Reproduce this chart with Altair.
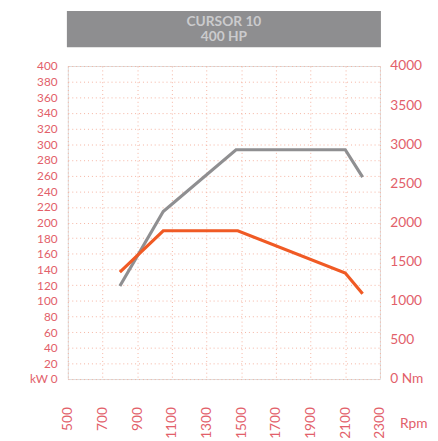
import altair as alt
import pandas as pd

# ---- data ----
rpm_power = [800, 1050, 1470, 2100, 2200]
power_kw = [119, 214, 293, 293, 258]
rpm_torque = [800, 1050, 1480, 2100, 2200]
torque_nm = [1365, 1895, 1895, 1355, 1090]
x_ticks = [500, 700, 900, 1100, 1300, 1500, 1700, 1900, 2100, 2300]
kw_ticks = list(range(0, 401, 20))
nm_ticks = list(range(0, 4001, 500))
title_lines = ["CURSOR 10", "400 HP"]

FONT = "Lato"
LABEL = "#e2606a"
GRID = "#f5b3a0"
BORDER = "#f8c6b6"

power_df = pd.DataFrame({"rpm": rpm_power, "kw": power_kw})
torque_df = pd.DataFrame({"rpm": rpm_torque, "nm": torque_nm})

x_scale = alt.Scale(domain=[500, 2300], nice=False, zero=False)
x_axis = alt.Axis(
    values=x_ticks, labelAngle=-90, labelPadding=28, ticks=False, domain=False,
    labelFontSize=14, labelColor=LABEL, labelFont=FONT, format="d",
    grid=True, gridColor=GRID, gridDash=[1, 3], gridWidth=1,
    title="Rpm", titleAngle=0, titleX=338, titleY=45, titleAlign="left",
    titleBaseline="middle", titleFontWeight="normal", titleFontSize=14,
    titleColor=LABEL, titleFont=FONT, labelOverlap=False, labelBound=False,
)

power = alt.Chart(power_df).mark_line(color="#8f8f91", strokeWidth=3.2).encode(
    x=alt.X("rpm:Q", scale=x_scale, axis=x_axis),
    y=alt.Y(
        "kw:Q",
        scale=alt.Scale(domain=[0, 400], nice=False),
        axis=alt.Axis(
            orient="left", values=kw_ticks, ticks=False, domain=False,
            labelExpr="datum.value == 0 ? 'kW 0' : datum.label",
            labelFontSize=12, labelPadding=11, labelColor=LABEL, labelFont=FONT,
            grid=True, gridColor=GRID, gridDash=[1, 3], gridWidth=1,
            title=None, labelOverlap=False, format="d",
        ),
    ),
)

torque = alt.Chart(torque_df).mark_line(color="#f05a24", strokeWidth=3.2).encode(
    x=alt.X("rpm:Q", scale=x_scale, axis=x_axis),
    y=alt.Y(
        "nm:Q",
        scale=alt.Scale(domain=[0, 4000], nice=False),
        axis=alt.Axis(
            orient="right", values=nm_ticks, ticks=False, domain=False,
            labelExpr="datum.value == 0 ? '0 Nm' : datum.label",
            labelFontSize=14, labelPadding=10, labelColor=LABEL, labelFont=FONT,
            grid=False, title=None, labelOverlap=False, format="d",
        ),
    ),
)

banner = alt.Chart(pd.DataFrame({"t": [0]})).mark_rect(color="#8e8e90").encode(
    x=alt.value(-1), x2=alt.value(319), y=alt.value(-56), y2=alt.value(-19)
)
banner_text = alt.Chart(pd.DataFrame({"t": [0]})).mark_text(
    color="#cbcbcd", fontWeight="bold", fontSize=14, font=FONT, lineHeight=16,
    align="center", baseline="middle",
).encode(x=alt.value(159), y=alt.value(-45), text=alt.value(title_lines))

chart = (
    alt.layer(power, torque, banner, banner_text)
    .resolve_scale(y="independent")
    .properties(
        width=318, height=319,
        autosize=alt.AutoSizeParams(type="none"),
        padding={"left": 61, "top": 55, "right": 51, "bottom": 59},
    )
    .configure_view(stroke=BORDER, strokeWidth=1)
    .configure(background="white")
)

chart.save("out.html", embed_options={"renderer": "svg", "actions": False})
